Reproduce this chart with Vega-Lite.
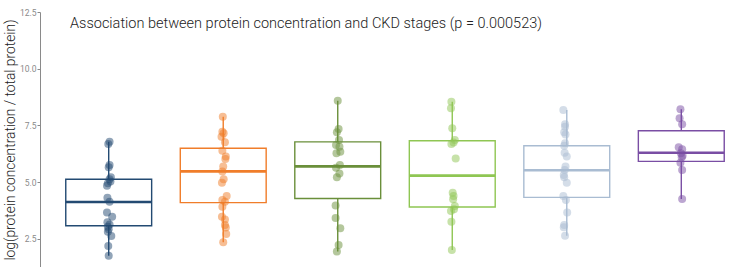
{
  "$schema": "https://vega.github.io/schema/vega-lite/v6.json",
  "width": 710,
  "height": 255,
  "autosize": {"type": "none"},
  "padding": {"left": 40, "top": 12, "right": 0, "bottom": 0},
  "background": "white",
  "title": {
    "text": "Association between protein concentration and CKD stages (p = 0.000523)",
    "anchor": "start",
    "frame": "group",
    "orient": "top",
    "offset": -34,
    "dx": 30,
    "baseline": "alphabetic",
    "font": "Roboto",
    "fontWeight": 300,
    "fontSize": 14.5,
    "color": "#222222"
  },
  "config": {
    "view": {"stroke": null},
    "axis": {
      "grid": false,
      "domainColor": "#8a8a8a",
      "domainWidth": 1,
      "tickColor": "#8a8a8a",
      "tickSize": 3,
      "labelColor": "#8a8a8a",
      "labelFont": "Roboto",
      "labelFontSize": 8.5,
      "labelPadding": 1,
      "titleFont": "Roboto",
      "titleFontWeight": 300,
      "titleColor": "#222222"
    }
  },
  "resolve": {"scale": {"xOffset": "independent"}},
  "datasets": {
    "boxes": [
      {"stage": "1", "lower": 1.75, "q1": 3.07, "median": 4.12, "q3": 5.12, "upper": 6.78},
      {"stage": "2", "lower": 2.34, "q1": 4.09, "median": 5.47, "q3": 6.49, "upper": 7.88},
      {"stage": "3A", "lower": 1.93, "q1": 4.27, "median": 5.69, "q3": 6.77, "upper": 8.59},
      {"stage": "3B", "lower": 2.0, "q1": 3.9, "median": 5.28, "q3": 6.82, "upper": 8.54},
      {"stage": "4", "lower": 2.63, "q1": 4.32, "median": 5.52, "q3": 6.6, "upper": 8.18},
      {"stage": "5", "lower": 4.25, "q1": 5.91, "median": 6.29, "q3": 7.26, "upper": 8.21}
    ],
    "points": [
      {"stage": "1", "value": 6.78, "jitter": 0.01},
      {"stage": "1", "value": 6.68, "jitter": -0.005},
      {"stage": "1", "value": 5.75, "jitter": 0.01},
      {"stage": "1", "value": 5.65, "jitter": 0.0},
      {"stage": "1", "value": 5.21, "jitter": 0.025},
      {"stage": "1", "value": 5.12, "jitter": 0.01},
      {"stage": "1", "value": 5.02, "jitter": 0.02},
      {"stage": "1", "value": 4.94, "jitter": -0.01},
      {"stage": "1", "value": 4.84, "jitter": -0.02},
      {"stage": "1", "value": 4.31, "jitter": -0.015},
      {"stage": "1", "value": 4.13, "jitter": 0.01},
      {"stage": "1", "value": 3.65, "jitter": -0.02},
      {"stage": "1", "value": 3.47, "jitter": 0.04},
      {"stage": "1", "value": 3.22, "jitter": -0.015},
      {"stage": "1", "value": 3.13, "jitter": 0.01},
      {"stage": "1", "value": 3.03, "jitter": -0.01},
      {"stage": "1", "value": 2.91, "jitter": 0.0},
      {"stage": "1", "value": 2.81, "jitter": -0.01},
      {"stage": "1", "value": 2.62, "jitter": 0.03},
      {"stage": "1", "value": 2.18, "jitter": -0.005},
      {"stage": "1", "value": 1.75, "jitter": 0.0},
      {"stage": "2", "value": 7.88, "jitter": -0.005},
      {"stage": "2", "value": 7.22, "jitter": -0.01},
      {"stage": "2", "value": 7.15, "jitter": 0.005},
      {"stage": "2", "value": 7.0, "jitter": -0.02},
      {"stage": "2", "value": 6.75, "jitter": 0.02},
      {"stage": "2", "value": 6.38, "jitter": -0.01},
      {"stage": "2", "value": 6.12, "jitter": 0.03},
      {"stage": "2", "value": 6.02, "jitter": 0.025},
      {"stage": "2", "value": 5.68, "jitter": 0.0},
      {"stage": "2", "value": 5.46, "jitter": -0.01},
      {"stage": "2", "value": 5.12, "jitter": 0.005},
      {"stage": "2", "value": 4.97, "jitter": -0.015},
      {"stage": "2", "value": 4.38, "jitter": 0.04},
      {"stage": "2", "value": 4.21, "jitter": -0.01},
      {"stage": "2", "value": 4.13, "jitter": 0.02},
      {"stage": "2", "value": 3.91, "jitter": -0.01},
      {"stage": "2", "value": 3.47, "jitter": -0.015},
      {"stage": "2", "value": 3.35, "jitter": 0.02},
      {"stage": "2", "value": 3.1, "jitter": 0.02},
      {"stage": "2", "value": 2.99, "jitter": 0.03},
      {"stage": "2", "value": 2.71, "jitter": 0.035},
      {"stage": "2", "value": 2.34, "jitter": 0.0},
      {"stage": "3A", "value": 8.59, "jitter": 0.0},
      {"stage": "3A", "value": 7.34, "jitter": 0.01},
      {"stage": "3A", "value": 7.19, "jitter": -0.01},
      {"stage": "3A", "value": 6.85, "jitter": 0.015},
      {"stage": "3A", "value": 6.63, "jitter": -0.02},
      {"stage": "3A", "value": 6.56, "jitter": 0.02},
      {"stage": "3A", "value": 6.34, "jitter": 0.03},
      {"stage": "3A", "value": 6.27, "jitter": -0.015},
      {"stage": "3A", "value": 5.75, "jitter": 0.025},
      {"stage": "3A", "value": 5.63, "jitter": -0.02},
      {"stage": "3A", "value": 5.38, "jitter": 0.02},
      {"stage": "3A", "value": 5.21, "jitter": -0.01},
      {"stage": "3A", "value": 3.96, "jitter": -0.025},
      {"stage": "3A", "value": 3.41, "jitter": -0.025},
      {"stage": "3A", "value": 2.96, "jitter": 0.03},
      {"stage": "3A", "value": 2.22, "jitter": 0.01},
      {"stage": "3A", "value": 1.93, "jitter": -0.01},
      {"stage": "3B", "value": 8.54, "jitter": -0.01},
      {"stage": "3B", "value": 8.25, "jitter": -0.015},
      {"stage": "3B", "value": 7.37, "jitter": 0.0},
      {"stage": "3B", "value": 6.85, "jitter": 0.03},
      {"stage": "3B", "value": 6.74, "jitter": 0.015},
      {"stage": "3B", "value": 6.68, "jitter": -0.01},
      {"stage": "3B", "value": 6.04, "jitter": 0.04},
      {"stage": "3B", "value": 4.53, "jitter": 0.005},
      {"stage": "3B", "value": 4.38, "jitter": 0.015},
      {"stage": "3B", "value": 4.24, "jitter": 0.01},
      {"stage": "3B", "value": 3.94, "jitter": 0.03},
      {"stage": "3B", "value": 3.8, "jitter": 0.02},
      {"stage": "3B", "value": 3.72, "jitter": -0.015},
      {"stage": "3B", "value": 3.25, "jitter": -0.01},
      {"stage": "3B", "value": 2.0, "jitter": -0.005},
      {"stage": "4", "value": 8.18, "jitter": -0.04},
      {"stage": "4", "value": 7.55, "jitter": -0.02},
      {"stage": "4", "value": 7.44, "jitter": -0.02},
      {"stage": "4", "value": 7.19, "jitter": -0.03},
      {"stage": "4", "value": 7.1, "jitter": -0.015},
      {"stage": "4", "value": 6.71, "jitter": -0.02},
      {"stage": "4", "value": 6.6, "jitter": -0.03},
      {"stage": "4", "value": 6.29, "jitter": -0.025},
      {"stage": "4", "value": 6.12, "jitter": 0.0},
      {"stage": "4", "value": 5.68, "jitter": -0.015},
      {"stage": "4", "value": 5.53, "jitter": -0.025},
      {"stage": "4", "value": 5.31, "jitter": -0.035},
      {"stage": "4", "value": 5.21, "jitter": -0.03},
      {"stage": "4", "value": 4.97, "jitter": 0.0},
      {"stage": "4", "value": 4.38, "jitter": -0.04},
      {"stage": "4", "value": 4.21, "jitter": -0.01},
      {"stage": "4", "value": 3.65, "jitter": 0.005},
      {"stage": "4", "value": 3.1, "jitter": -0.03},
      {"stage": "4", "value": 3.0, "jitter": -0.035},
      {"stage": "4", "value": 2.63, "jitter": -0.02},
      {"stage": "5", "value": 8.21, "jitter": -0.01},
      {"stage": "5", "value": 7.81, "jitter": -0.02},
      {"stage": "5", "value": 7.55, "jitter": 0.01},
      {"stage": "5", "value": 6.53, "jitter": -0.03},
      {"stage": "5", "value": 6.44, "jitter": 0.01},
      {"stage": "5", "value": 6.27, "jitter": -0.005},
      {"stage": "5", "value": 6.16, "jitter": 0.015},
      {"stage": "5", "value": 6.09, "jitter": 0.005},
      {"stage": "5", "value": 5.85, "jitter": -0.01},
      {"stage": "5", "value": 5.53, "jitter": 0.01},
      {"stage": "5", "value": 4.25, "jitter": 0.01}
    ]
  },
  "encoding": {
    "x": {
      "field": "stage",
      "type": "nominal",
      "sort": ["1", "2", "3A", "3B", "4", "5"],
      "scale": {"type": "band", "paddingInner": 0.25, "paddingOuter": 0.225},
      "axis": {"title": null, "labelAngle": 0, "tickSize": 2, "labelPadding": 2}
    },
    "color": {
      "field": "stage",
      "type": "nominal",
      "scale": {
        "domain": ["1", "2", "3A", "3B", "4", "5"],
        "range": ["#234a72", "#f07d2a", "#6a8f3a", "#8fc653", "#a9bcd2", "#7a4ea4"]
      },
      "legend": null
    }
  },
  "layer": [
    {
      "data": {"name": "boxes"},
      "mark": {"type": "rect", "fill": "white", "strokeWidth": 1.4, "fillOpacity": 0},
      "encoding": {
        "y": {
          "field": "q1",
          "type": "quantitative",
          "scale": {"domain": [1.25, 12.5], "nice": false, "zero": false},
          "axis": {
            "title": "log(protein concentration / total protein)",
            "titleFontSize": 13.8,
            "titlePadding": 2,
            "values": [2.5, 5, 7.5, 10, 12.5],
            "format": ".1f"
          }
        },
        "y2": {"field": "q3"},
        "stroke": {"field": "stage", "type": "nominal", "scale": {"domain": ["1", "2", "3A", "3B", "4", "5"], "range": ["#234a72", "#f07d2a", "#6a8f3a", "#8fc653", "#a9bcd2", "#7a4ea4"]}, "legend": null}
      }
    },
    {
      "data": {"name": "boxes"},
      "mark": {"type": "rule", "strokeWidth": 1.4},
      "encoding": {
        "y": {"field": "lower", "type": "quantitative"},
        "y2": {"field": "q1"}
      }
    },
    {
      "data": {"name": "boxes"},
      "mark": {"type": "rule", "strokeWidth": 1.4},
      "encoding": {
        "y": {"field": "q3", "type": "quantitative"},
        "y2": {"field": "upper"}
      }
    },
    {
      "data": {"name": "boxes"},
      "mark": {"type": "rect", "fillOpacity": 0, "strokeWidth": 2.6},
      "encoding": {
        "y": {"field": "median", "type": "quantitative"},
        "y2": {"field": "median"},
        "stroke": {"field": "stage", "type": "nominal", "legend": null}
      }
    },
    {
      "data": {"name": "points"},
      "mark": {"type": "circle", "size": 64, "opacity": 0.5},
      "encoding": {
        "y": {"field": "value", "type": "quantitative"},
        "xOffset": {"field": "jitter", "type": "quantitative", "scale": {"domain": [-0.5, 0.5]}}
      }
    }
  ]
}
